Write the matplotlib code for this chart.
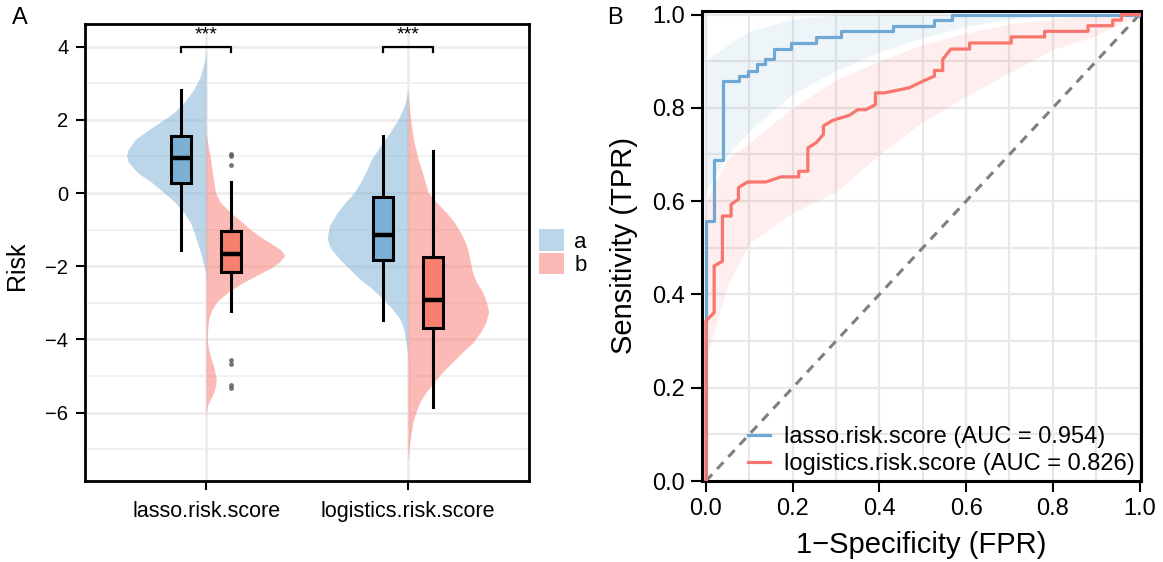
import matplotlib
matplotlib.use("Agg")
import matplotlib.pyplot as plt
from matplotlib.patches import Patch
from matplotlib.ticker import FormatStrFormatter

plt.rcParams['font.family'] = ['Liberation Sans', 'DejaVu Sans']

# ---------------- panel A data ----------------
categories = ["lasso.risk.score", "logistics.risk.score"]
groups = ["a", "b"]

# half-violin outlines: (risk value, half width in category units)
lasso_a_y = [3.88, 3.56, 3.2, 2.84, 2.47, 2.2, 2.0, 1.75, 1.47, 1.2, 1.02, 0.84, 0.56, 0.29,
             0.02, -0.25, -0.53, -0.8, -1.07, -1.35, -1.62, -1.89, -2.16, -2.35]
lasso_a_w = [0, 0.01, 0.028, 0.06, 0.11, 0.16, 0.21, 0.28, 0.35, 0.385, 0.395, 0.385, 0.34, 0.27,
             0.21, 0.155, 0.11, 0.078, 0.06, 0.044, 0.028, 0.015, 0.003, 0]
lasso_b_y = [1.65, 1.3, 1.0, 0.5, 0.02, -0.25, -0.53, -0.8, -1.0, -1.2, -1.35, -1.55, -1.71, -1.9,
             -2.07, -2.25, -2.44, -2.7, -2.96, -3.2, -3.44, -3.89, -4.2, -4.44, -4.75, -5.07,
             -5.25, -5.44, -5.65, -5.8, -6.07]
lasso_b_w = [0, 0.01, 0.02, 0.033, 0.046, 0.07, 0.12, 0.18, 0.22, 0.27, 0.315, 0.37, 0.39, 0.36,
             0.315, 0.25, 0.185, 0.11, 0.054, 0.027, 0.013, 0.005, 0.01, 0.02, 0.038, 0.05,
             0.048, 0.038, 0.02, 0.008, 0]
logit_a_y = [2.84, 2.5, 2.29, 2.0, 1.65, 1.3, 0.93, 0.56, 0.3, 0.02, -0.25, -0.53, -0.9, -1.25,
             -1.5, -1.8, -2.1, -2.35, -2.6, -2.89, -3.15, -3.44, -3.7, -3.98, -4.25, -4.55]
logit_a_w = [0, 0.012, 0.025, 0.05, 0.09, 0.135, 0.18, 0.21, 0.235, 0.265, 0.31, 0.35, 0.39, 0.40,
             0.385, 0.34, 0.285, 0.24, 0.18, 0.125, 0.08, 0.04, 0.022, 0.012, 0.005, 0]
logit_b_y = [2.75, 2.3, 1.84, 1.4, 0.93, 0.5, 0.02, -0.25, -0.53, -0.8, -1.07, -1.35, -1.62, -1.9,
             -2.16, -2.45, -2.7, -3.0, -3.25, -3.55, -3.8, -4.1, -4.35, -4.65, -4.9, -5.2,
             -5.44, -5.7, -5.98, -6.25, -6.53, -6.8, -7.07, -7.3]
logit_b_w = [0, 0.008, 0.017, 0.03, 0.05, 0.075, 0.10, 0.14, 0.19, 0.23, 0.26, 0.285, 0.30, 0.31,
             0.32, 0.34, 0.37, 0.39, 0.40, 0.385, 0.36, 0.32, 0.27, 0.215, 0.17, 0.125,
             0.09, 0.06, 0.04, 0.025, 0.017, 0.01, 0.005, 0]

# box statistics: whisker low, q1, median, q3, whisker high
box_lasso_a = [-1.55, 0.27, 0.95, 1.56, 2.82]
box_lasso_b = [-3.22, -2.16, -1.67, -1.05, 0.29]
box_logit_a = [-3.48, -1.83, -1.16, -0.10, 1.56]
box_logit_b = [-5.85, -3.69, -2.92, -1.74, 1.15]
outliers_lasso_b = [1.08, 1.0, 0.76, -4.57, -4.66, -5.24, -5.33]

# ---------------- panel B data ----------------
lasso_fpr = [0, 0, 0.019, 0.019, 0.04, 0.04, 0.077, 0.077, 0.096, 0.096, 0.117, 0.117, 0.136,
             0.136, 0.156, 0.156, 0.196, 0.196, 0.254, 0.254, 0.312, 0.312, 0.431, 0.431,
             0.527, 0.527, 0.568, 0.568, 1.0]
lasso_tpr = [0, 0.557, 0.557, 0.688, 0.688, 0.857, 0.857, 0.868, 0.868, 0.88, 0.88, 0.893, 0.893,
             0.904, 0.904, 0.927, 0.927, 0.94, 0.94, 0.952, 0.952, 0.964, 0.964, 0.976,
             0.976, 0.988, 0.988, 1.0, 1.0]
logit_fpr = [0, 0, 0.019, 0.019, 0.038, 0.038, 0.058, 0.058, 0.075, 0.075, 0.096, 0.138, 0.173,
             0.214, 0.214, 0.235, 0.235, 0.254, 0.271, 0.271, 0.292, 0.331, 0.35, 0.369, 0.391,
             0.391, 0.412, 0.469, 0.5, 0.527, 0.527, 0.546, 0.546, 0.565, 0.608, 0.608, 0.704,
             0.704, 0.781, 0.781, 0.881, 0.881, 0.938, 0.938, 0.958, 0.958, 1.0]
logit_tpr = [0, 0.343, 0.361, 0.461, 0.471, 0.568, 0.568, 0.593, 0.604, 0.629, 0.641, 0.641, 0.652,
             0.652, 0.664, 0.664, 0.714, 0.725, 0.743, 0.761, 0.773, 0.784, 0.796, 0.796, 0.807,
             0.832, 0.832, 0.843, 0.857, 0.868, 0.88, 0.88, 0.904, 0.926, 0.926, 0.939, 0.939,
             0.952, 0.952, 0.964, 0.964, 0.976, 0.976, 0.988, 0.988, 1.0, 1.0]
auc_lasso = 0.954
auc_logit = 0.826

ci_fpr = [0, 0.05, 0.1, 0.2, 0.3, 0.4, 0.5, 0.6, 0.7, 0.8, 0.9, 1.0]
lasso_ci_lo = [0.62, 0.70, 0.75, 0.83, 0.88, 0.92, 0.95, 0.975, 0.99, 1.0, 1.0, 1.0]
lasso_ci_hi = [0.90, 0.935, 0.965, 0.99, 1.0, 1.0, 1.0, 1.0, 1.0, 1.0, 1.0, 1.0]
logit_ci_lo = [0.26, 0.42, 0.51, 0.575, 0.62, 0.70, 0.77, 0.825, 0.875, 0.925, 0.955, 1.0]
logit_ci_hi = [0.60, 0.69, 0.725, 0.80, 0.86, 0.90, 0.936, 0.96, 0.98, 0.99, 1.0, 1.0]

col_a = "#7BAFD4"
col_b = "#F8766D"
box_b = "#F8806F"

fig = plt.figure(figsize=(11.63, 5.62), dpi=100)

# =========================== panel A ===========================
ax1 = fig.add_axes([0.0731, 0.1441, 0.3818, 0.8132])
ax1.set_xlim(0.4, 2.6)
ax1.set_ylim(-7.87, 4.62)
ax1.set_yticks([-6, -4, -2, 0, 2, 4])
ax1.set_yticks([-7, -5, -3, -1, 1, 3], minor=True)
ax1.set_xticks([1, 2])
ax1.set_xticklabels(categories)
ax1.grid(which='major', color='#EBEBEB', lw=1.8)
ax1.grid(which='minor', axis='y', color='#EFEFEF', lw=1.2)
ax1.set_axisbelow(True)

violins = [(1, lasso_a_y, lasso_a_w, -1, col_a), (1, lasso_b_y, lasso_b_w, 1, col_b),
           (2, logit_a_y, logit_a_w, -1, col_a), (2, logit_b_y, logit_b_w, 1, col_b)]
for xc, ys, ws, side, c in violins:
    ax1.fill_betweenx(ys, xc, [xc + side * w for w in ws], color=c, alpha=0.5, lw=0, zorder=2)

boxes = [(0.875, box_lasso_a, col_a, []), (1.125, box_lasso_b, box_b, outliers_lasso_b),
         (1.875, box_logit_a, col_a, []), (2.125, box_logit_b, box_b, [])]
for pos, s, c, fl in boxes:
    stats = [dict(whislo=s[0], q1=s[1], med=s[2], q3=s[3], whishi=s[4], fliers=fl)]
    ax1.bxp(stats, positions=[pos], widths=0.1, patch_artist=True, showcaps=False,
            boxprops=dict(facecolor=c, edgecolor='black', lw=2.2),
            whiskerprops=dict(color='black', lw=2.2),
            medianprops=dict(color='black', lw=3.2),
            flierprops=dict(marker='o', markersize=3.5, markerfacecolor='#555555',
                            markeredgecolor='none', alpha=0.8),
            manage_ticks=False, zorder=3)

# significance brackets
for xc in [1, 2]:
    ax1.plot([xc - 0.125, xc - 0.125, xc + 0.125, xc + 0.125], [3.85, 4.0, 4.0, 3.85],
             color='black', lw=1.6, zorder=4)
    ax1.text(xc, 4.1, "***", ha='center', va='bottom', fontsize=14)

for sp in ax1.spines.values():
    sp.set_linewidth(2)
ax1.tick_params(axis='both', which='major', length=6.5, width=1.5, labelsize=14.5, pad=5.5)
ax1.tick_params(axis='x', labelsize=15.5, pad=8)
ax1.tick_params(which='minor', length=0)
ax1.set_ylabel("Risk", fontsize=18)
ax1.yaxis.set_label_coords(-0.126, 0.47)

leg_handles = [Patch(facecolor=col_a, alpha=0.5, edgecolor='none'),
               Patch(facecolor=col_b, alpha=0.5, edgecolor='none')]
ax1.legend(leg_handles, groups, loc='center left', bbox_to_anchor=(1.0, 0.50), frameon=False,
           fontsize=16, handlelength=1.13, handleheight=1.13, labelspacing=0, handletextpad=0.45,
           borderaxespad=0.05)

# =========================== panel B ===========================
ax2 = fig.add_axes([0.604, 0.1441, 0.377, 0.8367])
ax2.set_xlim(-0.008, 1.003)
ax2.set_ylim(0, 1.008)
ax2.set_xticks([0, 0.2, 0.4, 0.6, 0.8, 1.0])
ax2.set_yticks([0, 0.2, 0.4, 0.6, 0.8, 1.0])
ax2.set_xticks([0.1, 0.3, 0.5, 0.7, 0.9], minor=True)
ax2.set_yticks([0.1, 0.3, 0.5, 0.7, 0.9], minor=True)
ax2.xaxis.set_major_formatter(FormatStrFormatter('%.1f'))
ax2.yaxis.set_major_formatter(FormatStrFormatter('%.1f'))
ax2.grid(which='both', color='#E8E8E8', lw=1.6)
ax2.set_axisbelow(True)

ax2.fill_between(ci_fpr, lasso_ci_lo, lasso_ci_hi, color=col_a, alpha=0.12, lw=0, zorder=1)
ax2.fill_between(ci_fpr, logit_ci_lo, logit_ci_hi, color=col_b, alpha=0.12, lw=0, zorder=1)
ax2.plot([0, 1], [0, 1], color='#7F7F7F', lw=2.2, dashes=(3, 2.4), zorder=2)
l1, = ax2.plot(lasso_fpr, lasso_tpr, color='#6FA8D4', lw=2.3, zorder=3)
l2, = ax2.plot(logit_fpr, logit_tpr, color=col_b, lw=2.3, zorder=4)

for sp in ax2.spines.values():
    sp.set_linewidth(2.2)
ax2.tick_params(axis='both', which='major', length=8, width=1.5, labelsize=17, pad=4.5)
ax2.tick_params(which='minor', length=0)
ax2.set_xlabel("1\u2212Specificity (FPR)", fontsize=21, labelpad=8)
ax2.set_ylabel("Sensitivity (TPR)", fontsize=21)
ax2.yaxis.set_label_coords(-0.147, 0.5)
ax2.legend([l1, l2], ["lasso.risk.score (AUC = %.3f)" % auc_lasso,
                      "logistics.risk.score (AUC = %.3f)" % auc_logit],
           loc='lower right', frameon=False, fontsize=17, handlelength=0.95,
           handletextpad=0.6, labelspacing=0.2, borderaxespad=0.1, borderpad=0.15)

fig.text(0.010, 0.988, "A", fontsize=17, va='top', ha='left')
fig.text(0.522, 0.988, "B", fontsize=17, va='top', ha='left')

fig.savefig("out.png", dpi=100)
